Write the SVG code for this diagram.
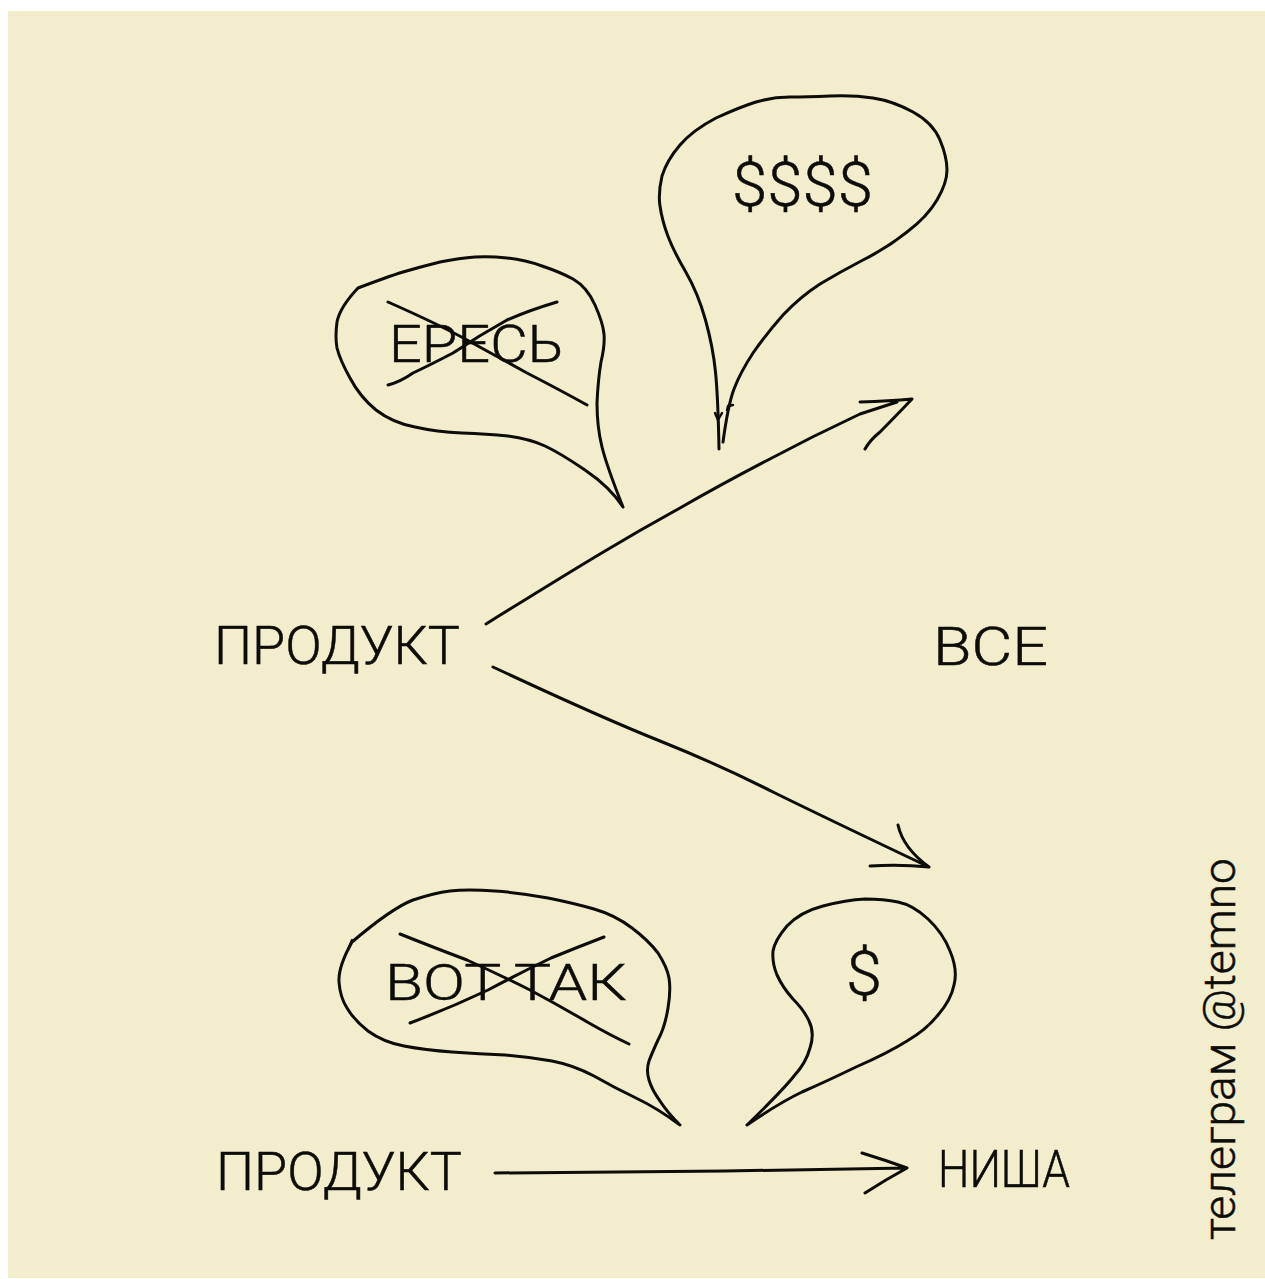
<svg xmlns="http://www.w3.org/2000/svg" width="1265" height="1279" viewBox="0 0 1265 1279">
<style>
.ink{fill:none;stroke:#0c0c08;stroke-width:3;stroke-linecap:round;stroke-linejoin:round}
.thin{stroke-width:2.4}
.t{font-family:"Roboto","Liberation Sans",sans-serif;font-weight:300;fill:#0c0c08;stroke:#0c0c08;stroke-width:.5}
</style>
<rect width="1265" height="1279" fill="#ffffff"/>
<rect x="8" y="11" width="1257" height="1267" fill="#f2edcd"/>
<g id="connectors">
<path id="arrow-up" class="ink" d="M486 624Q560 578 600 554Q640 530 680 508Q720 485 766 461Q813 436 860 414L897 402M860 402Q890 401 912 399Q892 420 880 432Q870 440 865 449"/>
<path id="arrow-down" class="ink" d="M493 667Q600 717 660 741Q720 765 775 793Q830 820 929 867M898 825Q903 848 929 867Q900 864 870 866"/>
<path id="arrow-bottom" class="ink" d="M495 1173Q650 1172 725 1171Q800 1170 907 1168M862 1153Q885 1160 907 1168Q885 1180 865 1193"/>
</g>
<g id="node-product-top"><text class="t" x="214" y="664" font-size="54" textLength="246" lengthAdjust="spacingAndGlyphs">ПРОДУКТ</text></g>
<g id="node-all"><text class="t" x="933" y="665" font-size="54" textLength="115" lengthAdjust="spacingAndGlyphs">ВСЕ</text></g>
<g id="node-product-bottom"><text class="t" x="216" y="1190" font-size="54" textLength="246" lengthAdjust="spacingAndGlyphs">ПРОДУКТ</text></g>
<g id="node-niche"><text class="t" x="938" y="1187" font-size="52" textLength="132" lengthAdjust="spacingAndGlyphs">НИША</text></g>
<g id="bubble-heresy">
<path class="ink" d="M358 288Q387 277 403 272Q420 267 440 262Q460 258 475 257Q490 256 507 258Q525 260 542 266Q560 272 573 279Q587 287 595 305Q603 323 604 334Q605 345 601 362Q598 380 597 403Q597 427 602 447Q607 467 623 507Q610 487 585 470Q560 453 545 446Q530 439 508 436Q487 434 462 433Q437 432 415 427Q393 423 376 410Q360 397 350 378Q340 360 337 348Q335 337 337 322Q340 307 358 288Z"/>
<text class="t" x="389" y="362" font-size="52" textLength="174" lengthAdjust="spacingAndGlyphs">ЕРЕСЬ</text>
<path class="ink" d="M388 302Q440 325 467 340Q500 358 527 373Q560 390 587 405M557 302Q530 310 507 320Q480 335 453 353Q430 365 413 373Q400 382 388 385"/>
</g>
<g id="bubble-money">
<path class="ink" d="M719 449Q718 397 715.5 372Q713 347 705.5 320Q698 293 685.5 271.5Q673 250 667.5 235Q662 220 660 206Q658 193 662 176Q667 160 680 145Q693 130 716 118Q740 107 756 102Q773 97 790 97Q807 97 830 96Q853 95 873 98Q893 101 913 112Q933 123 940 140Q947 157 947 170Q947 183 937 200Q927 217 907 232Q887 248 863 260Q840 272 820 284Q800 297 783 315Q767 333 753 353Q740 373 734 389Q728 405 723 442"/>
<path class="ink thin" d="M715 413L718 420L722 413M727 410L728 406L733 405"/>
<text class="t" x="732" y="206" font-size="62" textLength="141" lengthAdjust="spacingAndGlyphs">$$$$</text>
</g>
<g id="bubble-this-way">
<path class="ink" d="M352 942Q392 908 413 900Q434 893 450 891Q467 889 495 891Q522 893 548 898Q573 903 594 909Q615 915 632 928Q648 940 658 953Q667 967 669 978Q671 990 668 1008Q665 1027 658 1040Q652 1053 649 1061Q646 1070 649 1080Q652 1090 660 1101Q667 1112 680 1125Q657 1108 636 1098Q615 1088 594 1076Q573 1065 552 1061Q530 1057 505 1055Q480 1054 452 1052Q425 1050 404 1046Q383 1042 368 1031Q354 1020 347 1008Q340 997 339 982Q338 967 352 942"/>
<path class="ink thin" d="M348 950L352 940"/>
<text class="t" x="385" y="1000" font-size="50" textLength="242" lengthAdjust="spacingAndGlyphs">ВОТ ТАК</text>
<path class="ink" d="M400 934Q435 948 467 960Q500 975 530 990Q560 1006 589 1023Q610 1035 629 1044M604 937Q578 947 551 958Q520 973 488 990Q450 1008 410 1023"/>
</g>
<g id="bubble-small-money">
<path class="ink" d="M747 1125Q783 1090 794 1076Q806 1063 810 1048Q815 1033 809 1021Q804 1010 793 999Q783 988 777 975Q772 963 773 951Q775 940 787 926Q800 912 823 906Q846 900 865 899Q884 899 898 902Q913 905 928 919Q943 933 950 951Q958 970 954 985Q951 1000 938 1015Q926 1030 907 1041Q888 1053 856 1067Q825 1082 802 1092Q779 1103 747 1125"/>
<text class="t" x="846" y="995" font-size="62" textLength="36" lengthAdjust="spacingAndGlyphs">$</text>
</g>
<g id="credit"><text class="t" transform="translate(1235 1240) rotate(-90)" x="0" y="0" font-size="44" textLength="382" lengthAdjust="spacingAndGlyphs">телеграм @temno</text></g>
</svg>
